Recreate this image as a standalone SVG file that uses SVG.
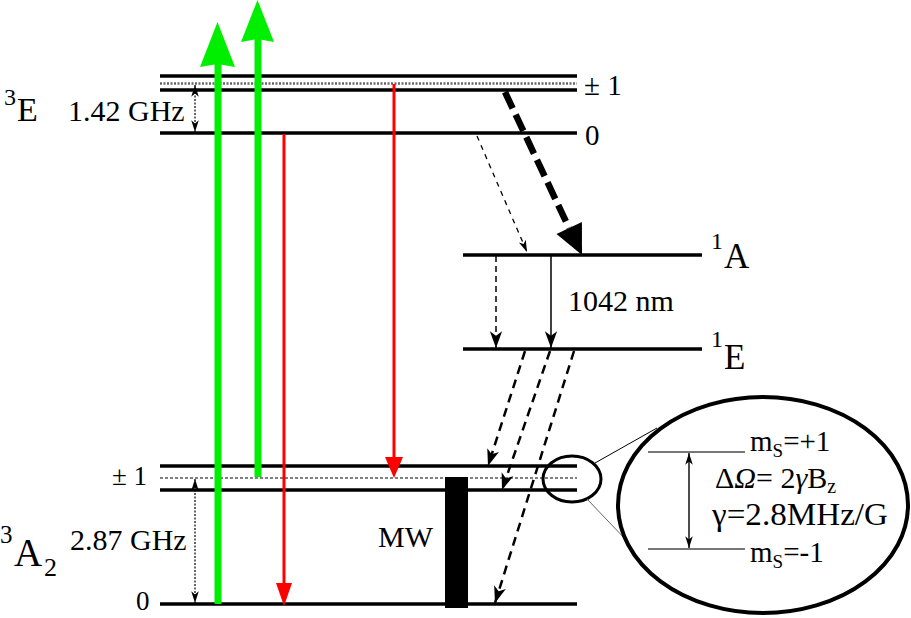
<svg xmlns="http://www.w3.org/2000/svg" width="911" height="618" viewBox="0 0 911 618" font-family="'Liberation Serif', 'DejaVu Serif', serif">
<style>
text{font-family:"Liberation Serif","DejaVu Serif",serif;fill:#000}
.lvl{stroke:#000;stroke-width:3.5;fill:none}
.dot{stroke:#000;stroke-width:1.2;stroke-dasharray:3 2;fill:none}
.dotg{stroke:#666;stroke-width:2.5;stroke-dasharray:2 1.5;fill:none}
.red{stroke:#ff0000;stroke-width:3;fill:none}
.green{fill:#00ee00}
.dash{stroke:#000;stroke-width:2.5;stroke-dasharray:9 6;fill:none}
.thin{stroke:#000;stroke-width:1.4;fill:none}
</style>
<defs>
<marker id="ah" markerUnits="userSpaceOnUse" markerWidth="20" markerHeight="20" viewBox="-16 -8 18 16" refX="0" refY="0" orient="auto">
<path d="M0,0 L-15,-5.5 L-11,0 L-15,5.5 Z" fill="#000"/>
</marker>
<marker id="as" markerUnits="userSpaceOnUse" markerWidth="14" markerHeight="14" viewBox="-12 -6 13 12" refX="0" refY="0" orient="auto">
<path d="M0,0 L-11,-3.5 L-8,0 L-11,3.5 Z" fill="#000"/>
</marker>
<marker id="asr" markerUnits="userSpaceOnUse" markerWidth="14" markerHeight="14" viewBox="-12 -6 13 12" refX="0" refY="0" orient="auto-start-reverse">
<path d="M0,0 L-11,-3.5 L-8,0 L-11,3.5 Z" fill="#000"/>
</marker>
</defs>

<g id="level-3E">
<line class="lvl" x1="160" y1="76" x2="577" y2="76"/>
<line class="dotg" x1="160" y1="83.5" x2="577" y2="83.5"/>
<line class="lvl" x1="160" y1="90" x2="577" y2="90"/>
<line class="lvl" x1="160" y1="133" x2="577" y2="133"/>
<text x="4" y="105" font-size="24">3</text>
<text x="17" y="121" font-size="34">E</text>
<text x="68" y="121" font-size="30">1.42 GHz</text>
<text x="584" y="95" font-size="29">± 1</text>
<text x="585" y="145" font-size="29">0</text>
</g>

<g id="level-1A">
<line class="lvl" x1="463" y1="255" x2="702" y2="255"/>
<text x="711" y="249" font-size="24">1</text>
<text x="724" y="268" font-size="35">A</text>
</g>

<g id="level-1E">
<line class="lvl" x1="463" y1="349" x2="702" y2="349"/>
<text x="711" y="347" font-size="24">1</text>
<text x="724" y="369" font-size="35">E</text>
</g>

<g id="level-3A2">
<line class="lvl" x1="160" y1="466" x2="577" y2="466"/>
<line class="dot" x1="160" y1="478" x2="577" y2="478"/>
<line class="lvl" x1="160" y1="490" x2="577" y2="490"/>
<line class="lvl" x1="160" y1="604" x2="577" y2="604"/>
<text x="0" y="543" font-size="25">3</text>
<text x="14" y="566" font-size="39">A</text>
<text x="44" y="576" font-size="26">2</text>
<text x="70" y="550" font-size="30">2.87 GHz</text>
<text x="112" y="485" font-size="27">± 1</text>
<text x="136" y="610" font-size="27">0</text>
</g>

<g id="mw">
<rect x="445" y="477" width="23" height="131" fill="#000"/>
<text x="378" y="547" font-size="30">MW</text>
</g>

<g id="zoom-ellipse">
<ellipse cx="572" cy="479" rx="29" ry="23" fill="none" stroke="#000" stroke-width="3"/>
<line x1="595" y1="463" x2="657" y2="428" stroke="#000" stroke-width="1"/>
<line x1="587" y1="499" x2="629" y2="543" stroke="#666" stroke-width="1"/>
<ellipse cx="763" cy="505" rx="145" ry="108" fill="none" stroke="#000" stroke-width="4"/>
<line x1="648" y1="452" x2="745" y2="452" stroke="#777" stroke-width="2"/>
<line x1="648" y1="549" x2="745" y2="549" stroke="#777" stroke-width="2"/>
<line x1="689" y1="453" x2="689" y2="548" class="thin" marker-start="url(#asr)" marker-end="url(#as)"/>
<text x="750" y="451" font-size="29">m<tspan font-size="19" dy="6">S</tspan><tspan dy="-6">=+1</tspan></text>
<text x="715" y="488" font-size="30">Δ<tspan font-style="italic">Ω</tspan>= 2<tspan font-style="italic">γ</tspan>B<tspan font-size="20" dy="5">z</tspan></text>
<text x="712" y="525" font-size="32" textLength="176" lengthAdjust="spacingAndGlyphs">γ=2.8MHz/G</text>
<text x="750" y="562" font-size="29">m<tspan font-size="19" dy="6">S</tspan><tspan dy="-6">=-1</tspan></text>
</g>

<g id="connectors">
<rect class="green" x="214.5" y="62" width="7" height="542"/>
<polygon class="green" points="217.5,22 235,67 217.5,64 200,67"/>
<rect class="green" x="254.5" y="38" width="7" height="439"/>
<polygon class="green" points="257.5,0 274,42 257.5,39 241,42"/>
<line class="red" x1="284" y1="134" x2="284" y2="585"/>
<polygon points="276,583 292,583 284,606" fill="#ff0000"/>
<line class="red" x1="394" y1="84" x2="394" y2="459"/>
<polygon points="385,457 403,457 394,478" fill="#ff0000"/>
<line x1="505" y1="92" x2="569" y2="228" stroke="#000" stroke-width="6.5" stroke-dasharray="18 7"/>
<polygon points="582,255 556.5,234 581.9,222" fill="#000"/>
<line x1="477" y1="136" x2="527" y2="252" stroke="#000" stroke-width="1.3" stroke-dasharray="5 5" marker-end="url(#as)"/>
<line x1="496" y1="256" x2="496" y2="348" stroke="#000" stroke-width="1.5" stroke-dasharray="6 4" marker-end="url(#ah)"/>
<line x1="551" y1="256" x2="551" y2="348" stroke="#000" stroke-width="1.5" marker-end="url(#ah)"/>
<text x="568" y="311" font-size="30">1042 nm</text>
<line class="dash" x1="525" y1="351" x2="488" y2="466" marker-end="url(#ah)"/>
<line class="dash" x1="550" y1="351" x2="502" y2="490" marker-end="url(#ah)"/>
<line class="dash" x1="574" y1="351" x2="495" y2="603" marker-end="url(#ah)"/>
<line x1="195" y1="85" x2="195" y2="132" stroke="#000" stroke-width="1.2" stroke-dasharray="2 1.5" marker-start="url(#asr)" marker-end="url(#as)"/>
<line x1="195" y1="479" x2="195" y2="603" stroke="#000" stroke-width="1.2" stroke-dasharray="2 1.5" marker-start="url(#asr)" marker-end="url(#as)"/>
</g>
</svg>
